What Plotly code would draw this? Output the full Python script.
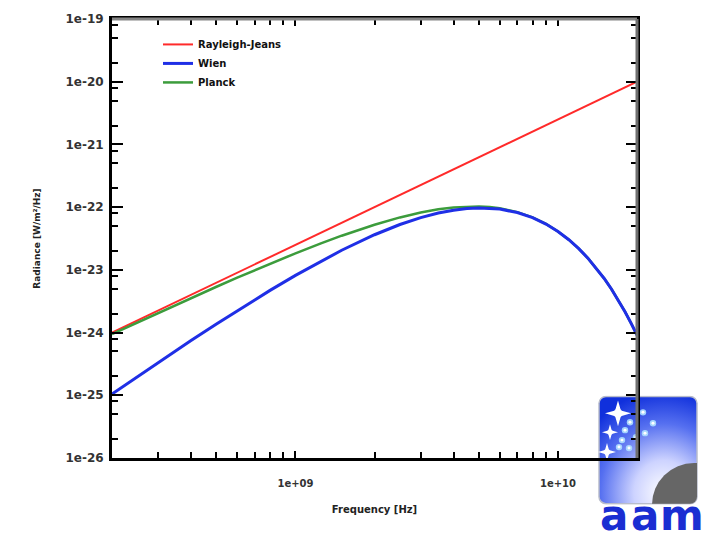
import math
import base64
import plotly.graph_objects as go

# ---------------- data ----------------
freq_hz = [2e8, 2.5e8, 3e8, 4e8, 5e8, 6e8, 8e8, 1e9, 1.25e9, 1.5e9, 2e9, 2.5e9,
           3e9, 3.5e9, 4e9, 4.5e9, 5e9, 5.5e9, 6e9, 7e9, 8e9, 9e9, 1e10, 1.1e10,
           1.2e10, 1.3e10, 1.4e10, 1.5e10, 1.6e10, 1.7e10, 1.8e10, 1.9e10, 2e10]

rayleigh_jeans = [1.0006e-24, 1.5635e-24, 2.2514e-24, 4.0026e-24, 6.254e-24, 9.006e-24,
                  1.601e-23, 2.5016e-23, 3.909e-23, 5.629e-23, 1.0006e-22, 1.5635e-22,
                  2.2514e-22, 3.0645e-22, 4.0026e-22, 5.0657e-22, 6.254e-22, 7.567e-22,
                  9.006e-22, 1.2258e-21, 1.601e-21, 2.026e-21, 2.5016e-21, 3.027e-21,
                  3.602e-21, 4.228e-21, 4.903e-21, 5.629e-21, 6.404e-21, 7.23e-21,
                  8.105e-21, 9.031e-21, 1.0006e-20]

wien = [1.047e-25, 1.986e-25, 3.332e-25, 7.447e-25, 1.371e-24, 2.234e-24,
        4.708e-24, 8.173e-24, 1.378e-23, 2.055e-23, 3.630e-23, 5.282e-23,
        6.80e-23, 8.045e-23, 8.947e-23, 9.491e-23, 9.701e-23, 9.619e-23,
        9.305e-23, 8.203e-23, 6.798e-23, 5.372e-23, 4.091e-23, 3.023e-23,
        2.178e-23, 1.5375e-23, 1.066e-23, 7.278e-24, 4.903e-24, 3.264e-24,
        2.151e-24, 1.4046e-24, 9.096e-25]

planck = [9.43e-25, 1.451e-24, 2.058e-24, 3.551e-24, 5.378e-24, 7.508e-24,
          1.2535e-23, 1.837e-23, 2.645e-23, 3.505e-23, 5.246e-23, 6.856e-23,
          8.203e-23, 9.22e-23, 9.886e-23, 1.0213e-22, 1.024e-22, 1.0013e-22,
          9.585e-23, 8.338e-23, 6.86e-23, 5.399e-23, 4.103e-23, 3.028e-23,
          2.180e-23, 1.5382e-23, 1.0663e-23, 7.279e-24, 4.903e-24, 3.264e-24,
          2.151e-24, 1.4046e-24, 9.096e-25]

series_names = ["Rayleigh-Jeans", "Wien", "Planck"]

x_tick_vals = [1e9, 1e10]
x_tick_text = ["1e+09", "1e+10"]
y_tick_vals = [1e-26, 1e-25, 1e-24, 1e-23, 1e-22, 1e-21, 1e-20, 1e-19]
y_tick_text = ["1e-26", "1e-25", "1e-24", "1e-23", "1e-22", "1e-21", "1e-20", "1e-19"]

x_title = "Frequency [Hz]"
y_title = "Radiance [W/m²/Hz]"

# ---------------- styling ----------------
FONT = "DejaVu Sans"
x_minor = [m * 10 ** e for e in (8, 9, 10) for m in range(2, 10)]
x_minor = [v for v in x_minor if v not in x_tick_vals]
y_minor = [m * 10 ** e for e in range(-26, -19) for m in (2, 5, 8)]

fig = go.Figure()
fig.add_trace(go.Scatter(x=freq_hz, y=rayleigh_jeans, mode="lines", name=series_names[0],
                         line=dict(color="#ff2a2a", width=2), legendrank=1,
                         legendgroup="a"))
fig.add_trace(go.Scatter(x=freq_hz, y=planck, mode="lines", name=series_names[2],
                         line=dict(color="#3c9c3c", width=2.5), legendrank=3,
                         legendgroup="c"))
fig.add_trace(go.Scatter(x=freq_hz, y=wien, mode="lines", name=series_names[1],
                         line=dict(color="#1f2fe6", width=3), legendrank=2,
                         legendgroup="b"))

fig.update_xaxes(type="log", range=[math.log10(freq_hz[0]), math.log10(freq_hz[-1])],
                 tickmode="array", tickvals=x_tick_vals, ticktext=x_tick_text,
                 ticks="inside", ticklen=7, tickwidth=2, tickcolor="black",
                 showline=True, linewidth=3, linecolor="black", mirror="ticks",
                 showgrid=False, zeroline=False,
                 minor=dict(tickmode="array", tickvals=x_minor, ticks="inside", ticklen=6,
                            tickwidth=1.5, tickcolor="black", showgrid=False),
                 tickfont=dict(family=FONT, size=10, color="#333333", weight="bold"),
                 ticklabelstandoff=14,
                 title=dict(text=x_title, font=dict(family=FONT, size=10, color="#222222",
                                                    weight="bold"), standoff=18))
fig.update_yaxes(type="log", range=[-26, -19],
                 tickmode="array", tickvals=y_tick_vals, ticktext=y_tick_text,
                 ticks="inside", ticklen=11, tickwidth=2, tickcolor="black",
                 showline=True, linewidth=3, linecolor="black", mirror="ticks",
                 showgrid=False, zeroline=False,
                 minor=dict(tickmode="array", tickvals=y_minor, ticks="inside", ticklen=6,
                            tickwidth=1.5, tickcolor="black", showgrid=False),
                 tickfont=dict(family=FONT, size=12, color="#333333", weight="bold"),
                 ticklabelstandoff=3,
                 title=dict(text=y_title, font=dict(family=FONT, size=9, color="#222222",
                                                    weight="bold"), standoff=24))

# logo (decoration)
def star(cx, cy, r):
    s = r * 0.22
    return (f'<path d="M{cx},{cy-r} L{cx+s},{cy-s} L{cx+r},{cy} L{cx+s},{cy+s} '
            f'L{cx},{cy+r} L{cx-s},{cy+s} L{cx-r},{cy} L{cx-s},{cy-s} Z" fill="#ffffff"/>'
            f'<circle cx="{cx}" cy="{cy}" r="{r*0.35}" fill="#ffffff" opacity="0.8"/>')

dots = [(32, 27), (27, 35), (45, 17), (55, 28), (47, 38), (38, 42), (24, 45), (31, 53), (21, 52)]
dot_svg = "".join(f'<circle cx="{x}" cy="{y}" r="3.2" fill="#aee0ff" opacity="0.9"/>'
                  f'<circle cx="{x}" cy="{y}" r="1.5" fill="#ffffff"/>' for x, y in dots)
svg = ('<svg xmlns="http://www.w3.org/2000/svg" width="100" height="110" viewBox="0 0 100 110">'
       '<defs><radialGradient id="g" cx="0.66" cy="0.9" r="0.95">'
       '<stop offset="0" stop-color="#ffffff"/><stop offset="0.32" stop-color="#cdd3ff"/>'
       '<stop offset="0.68" stop-color="#5670f0"/><stop offset="1" stop-color="#1030dc"/>'
       '</radialGradient><clipPath id="c"><rect x="1" y="1" width="98" height="108" rx="7"/></clipPath></defs>'
       '<rect x="1" y="1" width="98" height="108" rx="7" fill="url(#g)" stroke="#b8bccb" stroke-width="1.5"/>'
       '<g clip-path="url(#c)"><circle cx="96" cy="110" r="42" fill="#666666"/></g>'
       + star(20, 18, 13) + star(12, 37, 8) + star(9, 57, 9) + dot_svg +
       '</svg>')
logo_src = "data:image/svg+xml;base64," + base64.b64encode(svg.encode()).decode()

L, R, T, B = 112, 69, 16, 81
PW, PH = 706 - L - R, 539 - T - B

def px(x):
    return (x - L) / PW

def py(y):
    return (539 - B - y) / PH

fig.add_layout_image(dict(source=logo_src, xref="paper", yref="paper", x=px(598), y=py(395),
                          sizex=100 / PW, sizey=110 / PH, xanchor="left", yanchor="top",
                          sizing="stretch", layer="below"))
for ch, cx in zip(["a", "a", "m"], [614, 645, 682]):
    fig.add_annotation(text=ch, xref="paper", yref="paper", x=px(cx), y=py(516),
                       showarrow=False, xanchor="center", yanchor="middle",
                       font=dict(family="DejaVu Sans", size=42, color="#1a2ed2",
                                 weight="bold"))

# gray top/right frame
fig.add_shape(type="line", xref="paper", yref="paper", x0=0, x1=1, y0=1, y1=1,
              line=dict(color="#858585", width=3))
fig.add_shape(type="line", xref="paper", yref="paper", x0=1, x1=1, y0=0, y1=1,
              line=dict(color="#707070", width=3))

fig.update_layout(
    width=706, height=539,
    margin=dict(l=L, r=R, t=T, b=B),
    paper_bgcolor="white", plot_bgcolor="rgba(0,0,0,0)",
    showlegend=True,
    legend=dict(x=px(158), y=py(27), xanchor="left", yanchor="top",
                bgcolor="rgba(0,0,0,0)", borderwidth=0, tracegroupgap=0,
                font=dict(family=FONT, size=10, color="#111111", weight="bold")),
)

fig.write_html("out.html")
